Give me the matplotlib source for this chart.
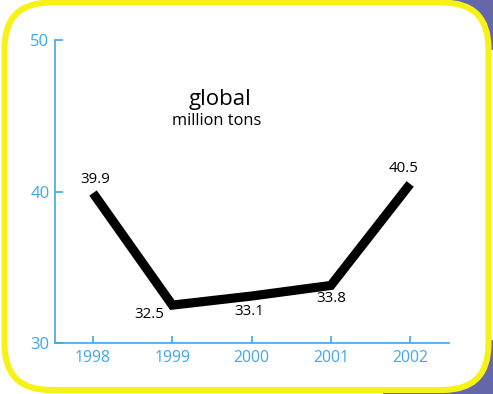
import matplotlib
matplotlib.use("Agg")
import matplotlib.pyplot as plt
from matplotlib.patches import FancyBboxPatch, Rectangle
from matplotlib.transforms import IdentityTransform

years = [1998, 1999, 2000, 2001, 2002]
values = [39.9, 32.5, 33.1, 33.8, 40.5]
value_labels = ["39.9", "32.5", "33.1", "33.8", "40.5"]
y_ticks = [30, 40, 50]

BLUE = "#3fa7e6"
PURPLE = "#6467a9"
YELLOW = "#f7f216"

plt.rcParams["font.family"] = ["Open Sans", "DejaVu Sans"]

W, H = 493, 394
fig = plt.figure(figsize=(W / 100, H / 100), dpi=100, facecolor="white")

# frame: purple corners behind a white rounded panel with a yellow rim
ident = IdentityTransform()
fig.patches.append(Rectangle((447, 344), 46, 50, transform=ident,
                             facecolor=PURPLE, edgecolor="none", zorder=0))
fig.patches.append(Rectangle((383, 0), 110, 54, transform=ident,
                             facecolor=PURPLE, edgecolor="none", zorder=0))
fig.patches.append(FancyBboxPatch((4.5, 4), 484, 387.5, transform=ident,
                                  boxstyle="round,pad=0,rounding_size=46",
                                  facecolor="white", edgecolor=YELLOW,
                                  linewidth=4.4, zorder=1))

ax = fig.add_axes([55 / W, (H - 343) / H, (449 - 55) / W, (343 - 40) / H])
ax.set_facecolor("none")
ax.set_zorder(2)

ax.plot(years, values, color="black", linewidth=6.6,
        solid_joinstyle="miter", solid_capstyle="butt", zorder=3)

offsets = [(2, 14), (-23, -9), (-2, -15), (0, -13), (-7, 15)]
for x, y, lab, off in zip(years, values, value_labels, offsets):
    ax.annotate(lab, (x, y), xytext=off, textcoords="offset pixels",
                ha="center", va="center", fontsize=10.8, color="black")

ax.set_xlim(1997.52, 2002.49)
ax.set_ylim(30, 50)
ax.set_xticks(years)
ax.set_yticks(y_ticks)

for side in ("top", "right"):
    ax.spines[side].set_visible(False)
for side in ("left", "bottom"):
    ax.spines[side].set_color(BLUE)
    ax.spines[side].set_linewidth(1.2)

ax.tick_params(axis="x", direction="in", length=5, width=1.2, color=BLUE,
               labelcolor=BLUE, labelsize=11.3, pad=5)
ax.tick_params(axis="y", direction="in", length=6, width=1.2, color=BLUE,
               labelcolor=BLUE, labelsize=12, pad=4)

ax.text((220 - 55) / (449 - 55), (343 - 100) / (343 - 40),
        "global", transform=ax.transAxes, ha="center", va="center",
        fontsize=16, color="black")
ax.text((217 - 55) / (449 - 55), (343 - 121) / (343 - 40),
        "million tons", transform=ax.transAxes, ha="center", va="center",
        fontsize=11.8, color="black")

fig.savefig("out.png", dpi=100, facecolor="white")
